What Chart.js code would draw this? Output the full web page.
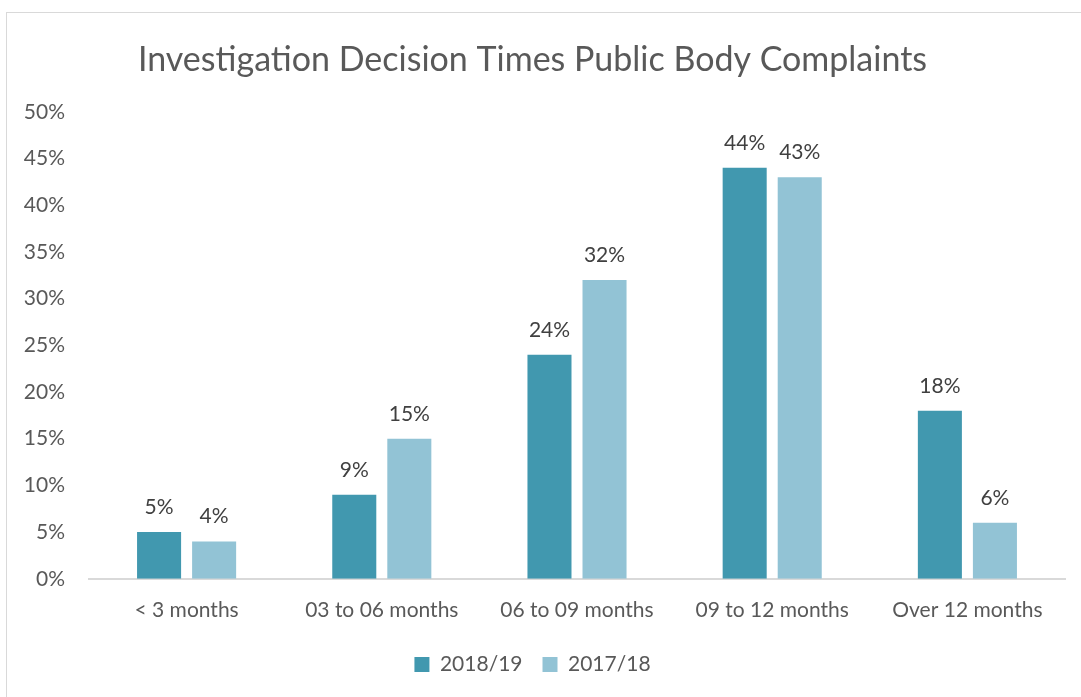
<!DOCTYPE html>
<html>
<head>
<meta charset="utf-8">
<script src="https://cdn.jsdelivr.net/npm/chart.js@4"></script>
<style>
    body { margin: 0; background: #fff; }
    #wrap { position: relative; width: 1081px; height: 697px; overflow: hidden; }
    #frame { position: absolute; left: 6px; top: 12px; width: 1100px; height: 720px; border: 1px solid #d9d9d9; box-sizing: border-box; }
    canvas { position: absolute; left: 0; top: 0; }
</style>
</head>
<body>
<div id="wrap">
    <div id="frame"></div>
    <canvas id="barChart" width="1081" height="697"></canvas>
</div>
<script>
const categories = ['< 3 months', '03 to 06 months', '06 to 09 months', '09 to 12 months', 'Over 12 months'];
const values1819 = [5, 9, 24, 44, 18];
const values1718 = [4, 15, 32, 43, 6];
const seriesNames = ['2018/19', '2017/18'];

const textColor = '#595959';
const fontName = 'Lato';

// labels over each bar
const barLabels = {
    id: 'barLabels',
    afterDatasetsDraw(chart) {
        const c = chart.ctx;
        c.save();
        c.font = '21px ' + fontName;
        c.fillStyle = '#404040';
        c.textAlign = 'center';
        c.textBaseline = 'alphabetic';
        chart.data.datasets.forEach((ds, i) => {
            chart.getDatasetMeta(i).data.forEach((bar, j) => {
                c.fillText(ds.data[j] + '%', bar.x, bar.y - 18);
            });
        });
        c.restore();
    }
};

const ctx = document.getElementById('barChart');

new Chart(ctx, {
    type: 'bar',
    data: {
        labels: categories,
        datasets: [{
            label: seriesNames[0],
            data: values1819,
            backgroundColor: '#4198af'
        }, {
            label: seriesNames[1],
            data: values1718,
            backgroundColor: '#92c3d5'
        }]
    },
    plugins: [barLabels],
    options: {
        responsive: false,
        animation: false,
        barPercentage: 0.8,
        categoryPercentage: 0.564,
        layout: {
            padding: { left: 0, right: 16, top: 40, bottom: 12 }
        },
        scales: {
            x: {
                grid: { display: false },
                border: { display: true, color: '#d9d9d9', width: 2 },
                ticks: {
                    color: textColor,
                    font: { family: fontName, size: 21 },
                    padding: 11
                }
            },
            y: {
                min: 0,
                max: 50,
                grid: { display: false },
                border: { display: false },
                afterFit: function (scale) { scale.width = 89; },
                ticks: {
                    stepSize: 5,
                    color: textColor,
                    font: { family: fontName, size: 21 },
                    padding: 16,
                    callback: function (value) { return value + '%'; }
                }
            }
        },
        plugins: {
            title: {
                display: true,
                text: 'Investigation Decision Times Public Body Complaints',
                color: textColor,
                font: { family: fontName, size: 34, weight: 'normal' },
                padding: { top: 0, bottom: 31 }
            },
            legend: {
                position: 'bottom',
                labels: {
                    color: textColor,
                    font: { family: fontName, size: 21 },
                    boxWidth: 15,
                    boxHeight: 15,
                    padding: 20
                }
            },
            tooltip: { enabled: false }
        }
    }
});
</script>
</body>
</html>
